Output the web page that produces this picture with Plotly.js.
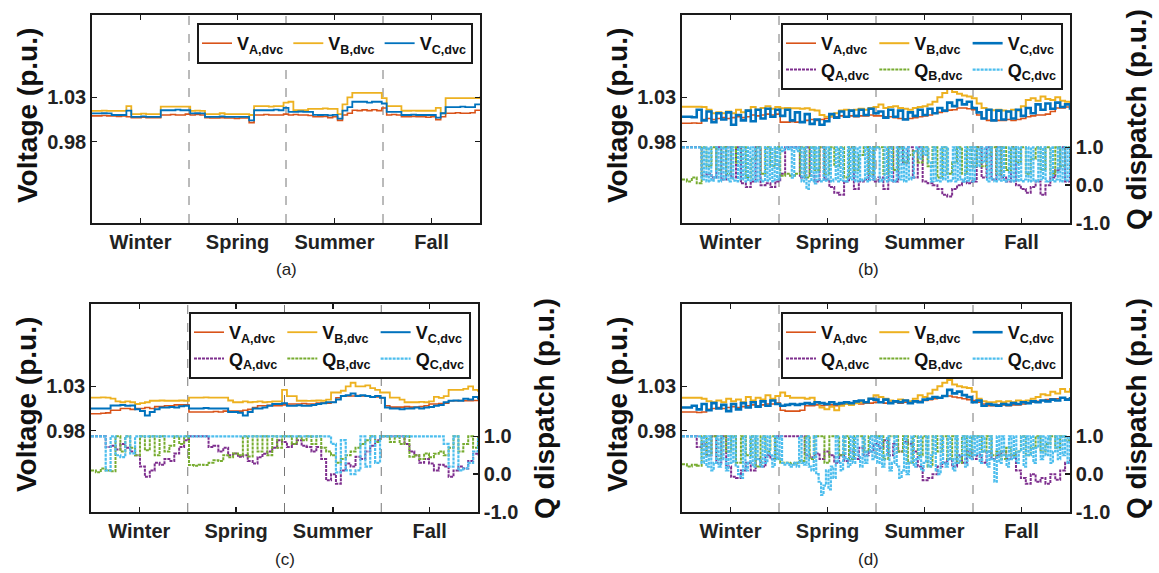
<!DOCTYPE html>
<html>
<head>
<meta charset="utf-8">
<script src="https://cdn.plot.ly/plotly-3.0.1.min.js"></script>
<style>html,body{margin:0;padding:0;background:#fff;}#chart{width:1159px;height:573px;}</style>
</head>
<body>
<div id="chart"></div>
<script>
// ---------------- DATA (voltage: 80 samples, 20 per season) ----------------
const seasons = ['Winter', 'Spring', 'Summer', 'Fall'];
const seasonTicks = [0.5, 1.5, 2.5, 3.5];
const voltTicks = [0.98, 1.03];
const voltTickText = ['0.98', '1.03'];
const qTicks = [-1, 0, 1];
const qTickText = ['-1.0', '0.0', '1.0'];

// Panel (a)
const VA_a = [1.009,1.009,1.0095,1.009,1.009,1.0085,1.009,1.008,1.007,1.007,1.0075,1.007,1.007,1.007,1.010,1.010,1.0105,1.010,1.010,1.011,
  1.010,1.0105,1.010,1.007,1.0067,1.0067,1.007,1.0067,1.0067,1.006,1.0067,1.0067,1.0014,1.010,1.010,1.0105,1.010,1.010,1.010,1.011,
  1.010,1.0105,1.010,1.010,1.0095,1.008,1.008,1.0085,1.007,1.008,1.004,1.010,1.012,1.0154,1.015,1.0158,1.015,1.016,1.015,1.018,
  1.010,1.0105,1.010,1.008,1.008,1.0085,1.008,1.008,1.0075,1.008,1.0048,1.008,1.012,1.012,1.0125,1.012,1.012,1.0125,1.0154,1.0154];
const VB_a = [1.0146,1.0146,1.015,1.0146,1.0146,1.0146,1.0146,1.020,1.011,1.011,1.0115,1.011,1.011,1.011,1.0194,1.0194,1.0194,1.0194,1.0194,1.0194,
  1.0146,1.015,1.0146,1.011,1.011,1.011,1.012,1.011,1.011,1.011,1.011,1.011,1.010,1.020,1.020,1.020,1.0195,1.020,1.020,1.024,
  1.025,1.0154,1.0154,1.0154,1.017,1.017,1.017,1.0175,1.017,1.017,1.011,1.022,1.030,1.035,1.035,1.035,1.035,1.035,1.035,1.029,
  1.020,1.020,1.020,1.0148,1.0148,1.015,1.0148,1.0148,1.0148,1.0148,1.018,1.012,1.029,1.029,1.029,1.029,1.029,1.029,1.029,1.031];
const VC_a = [1.0118,1.0118,1.012,1.0118,1.010,1.010,1.010,1.015,1.008,1.008,1.0085,1.008,1.008,1.008,1.0154,1.0154,1.0154,1.016,1.0154,1.0154,
  1.0118,1.012,1.0118,1.008,1.008,1.008,1.0085,1.008,1.008,1.008,1.008,1.008,1.004,1.0154,1.0154,1.0154,1.0154,1.016,1.0154,1.018,
  1.0136,1.0136,1.014,1.0136,1.0136,1.0101,1.010,1.0101,1.0095,1.0101,1.006,1.015,1.019,1.025,1.025,1.025,1.024,1.025,1.025,1.023,
  1.0136,1.0136,1.0136,1.010,1.010,1.0105,1.010,1.010,1.010,1.010,1.007,1.012,1.019,1.019,1.019,1.0195,1.019,1.019,1.022,1.022];

// Panel (b)
const VA_b = [1.0007,1.0007,1.001,1.0007,1.005,1.006,1.005,1.006,1.007,1.006,1.007,1.008,1.007,1.008,1.010,1.009,1.010,1.011,1.010,1.011,
  1.002,1.002,1.0025,1.002,1.002,1.004,1.005,1.004,1.005,1.006,1.008,1.008,1.009,1.008,1.009,1.008,1.009,1.009,1.010,1.009,
  1.009,1.008,1.008,1.007,1.006,1.0055,1.006,1.007,1.008,1.009,1.010,1.012,1.013,1.014,1.0155,1.016,1.018,1.018,1.017,1.016,
  1.010,1.006,1.004,1.004,1.004,1.004,1.005,1.004,1.005,1.006,1.008,1.009,1.010,1.010,1.011,1.014,1.018,1.018,1.019,1.018];
const VB_b = [1.0194,1.0194,1.0194,1.0194,1.019,1.016,1.012,1.013,1.012,1.014,1.012,1.016,1.013,1.015,1.019,1.016,1.018,1.020,1.017,1.019,
  1.0176,1.018,1.0176,1.0176,1.017,1.0176,1.016,1.015,1.010,1.008,1.009,1.012,1.015,1.016,1.015,1.016,1.017,1.016,1.018,1.019,
  1.022,1.018,1.019,1.020,1.018,1.017,1.016,1.018,1.019,1.020,1.022,1.025,1.030,1.035,1.0395,1.036,1.034,1.032,1.031,1.029,
  1.023,1.018,1.016,1.0154,1.016,1.015,1.014,1.016,1.015,1.020,1.027,1.029,1.026,1.031,1.028,1.027,1.030,1.026,1.025,1.022];
const VC_b = [1.008,1.008,1.0075,1.016,1.004,1.014,1.002,1.012,1.005,1.013,0.999,1.010,1.004,1.015,1.003,1.016,1.006,1.017,1.008,1.016,
  1.009,1.016,1.004,1.013,1.002,1.011,1.000,1.005,0.999,1.003,1.011,1.007,1.014,1.008,1.015,1.009,1.016,1.010,1.017,1.012,
  1.014,1.007,1.016,1.008,1.015,1.005,1.013,1.009,1.016,1.010,1.017,1.012,1.018,1.015,1.024,1.020,1.027,1.022,1.025,1.018,
  1.013,1.006,1.016,1.004,1.015,1.005,1.014,1.006,1.016,1.009,1.018,1.012,1.022,1.016,1.023,1.017,1.024,1.019,1.022,1.016];
const QA_b = [1,1,1,1,0.25,0.3,0.2,1,0.15,1,0.2,1,0.05,-0.05,0.1,1,0.0,0.05,-0.05,0.1,
  0.3,1,1,1,0.2,1,0.25,0.1,1,0.15,-0.05,-0.2,-0.25,0.1,1,-0.1,0.1,0.15,1,0.1,
  0.2,-0.1,1,0.1,1,0.6,1,0.2,1,0.1,0.05,0.0,-0.1,-0.25,-0.3,-0.1,0.0,0.1,0.05,0.1,
  1,0.2,1,0.15,1,0.2,0.1,1,0.0,-0.1,-0.2,-0.05,0.1,-0.25,0.0,0.2,0.4,1,0.1,1];
const QB_b = [0.15,0.1,0.2,0.05,1,0.5,1,0.4,1,0.3,1,0.6,1,0.2,0.7,1,0.3,1,0.5,1,
  0.25,0.3,0.25,0.3,1,0.2,1,0.4,1,0.3,1,0.5,1,0.2,1,0.4,0.8,1,0.3,1,
  1,0.3,1,0.4,1,0.6,0.8,0.9,0.6,1,0.5,1,0.2,1,0.3,0.6,1,0.3,1,0.5,
  1,0.5,0.8,1,0.3,1,0.4,1,0.6,1,0.3,0.7,1,0.4,1,0.3,1,0.5,1,0.4];
// Q_C in (b): 160 samples (40 per season)
const QC_b = [1,1,1,1,1,1,1,1,0.15,1,0.1,1,0.12,0.2,1,0.1,1,0.15,1,0.1,1,0.12,0.1,1,0.15,1,0.1,1,0.12,1,0.1,1,0.15,0.1,1,0.12,1,0.1,1,0.15,
  1,0.9,1,0.95,1,0.2,1,0.9,1,0.1,1,-0.1,0.1,1,0.05,1,0.15,0.1,1,0.12,1,0.1,0.15,1,0.1,1,0.12,0.1,1,0.15,1,0.1,1,0.12,0.15,1,0.1,1,0.15,1,
  1,0.1,0.15,1,0.1,1,0.12,0.1,1,0.15,1,0.1,1,0.15,0.2,0.9,1,0.7,1,0.8,1,0.6,0.1,1,0.12,0.1,1,0.15,1,0.1,0.12,1,0.1,1,0.15,0.1,1,0.12,1,0.1,
  1,0.5,1,0.6,1,0.1,1,0.15,0.1,1,0.12,1,0.1,0.15,1,0.1,1,0.12,1,0.1,0.15,1,0.1,1,0.12,0.1,1,0.15,1,0.1,0.12,1,0.1,0.15,1,0.1,1,0.12,1,0.15];

// Panel (c)
const VA_c = [0.999,0.999,0.9995,1.000,1.003,1.003,1.005,1.005,1.004,1.005,1.005,1.006,1.005,1.007,1.007,1.008,1.008,1.009,1.009,1.009,
  1.001,1.001,1.001,1.001,1.001,1.0015,1.001,1.002,1.002,1.002,1.002,1.003,1.004,1.006,1.008,1.008,1.0085,1.008,1.008,1.009,
  1.010,1.010,1.010,1.0105,1.010,1.010,1.011,1.011,1.011,1.012,1.017,1.019,1.019,1.019,1.0195,1.019,1.019,1.018,1.018,1.017,
  1.008,1.0065,1.0065,1.0065,1.007,1.0065,1.0065,1.007,1.008,1.010,1.010,1.0105,1.011,1.0137,1.0137,1.014,1.0137,1.0137,1.014,1.0137];
const VB_c = [1.0173,1.0173,1.0175,1.0173,1.016,1.013,1.012,1.013,1.012,1.010,1.011,1.012,1.0137,1.0137,1.014,1.0137,1.0137,1.0137,1.014,1.0137,
  1.0173,1.0173,1.0173,1.0175,1.0173,1.0173,1.0173,1.0173,1.014,1.012,1.012,1.013,1.012,1.0125,1.013,1.012,1.0125,1.013,1.013,1.026,
  1.019,1.019,1.0137,1.0137,1.0135,1.0137,1.014,1.0137,1.015,1.023,1.023,1.025,1.030,1.034,1.030,1.030,1.031,1.028,1.026,1.023,
  1.023,1.0173,1.0173,1.015,1.012,1.012,1.012,1.0125,1.012,1.013,1.018,1.017,1.019,1.026,1.026,1.026,1.027,1.030,1.026,1.024];
const VC_c = [1.005,1.005,1.005,1.005,1.0083,1.0083,1.009,1.008,1.0083,1.004,1.002,0.997,1.001,1.004,1.006,1.006,1.0065,1.006,1.0075,1.008,
  1.005,1.005,1.005,1.0055,1.005,1.005,1.005,1.005,1.001,1.001,1.000,0.997,1.001,1.005,1.005,1.006,1.008,1.010,1.010,1.011,
  1.008,1.008,1.0085,1.008,1.008,1.009,1.010,1.011,1.012,1.012,1.015,1.019,1.020,1.022,1.019,1.020,1.019,1.018,1.019,1.017,
  1.006,1.005,1.005,1.004,1.005,1.005,1.006,1.005,1.006,1.0065,1.008,1.009,1.012,1.0137,1.014,1.0137,1.016,1.015,1.018,1.015];
const QA_c = [1,1,1,0.72,0.75,0.65,0.8,0.7,0.6,0.5,0.2,-0.07,0.1,0.3,0.25,0.4,0.35,0.55,0.72,0.9,
  1,1,1,1,0.72,0.75,0.6,0.7,0.5,0.55,0.46,0.5,0.35,0.28,0.45,0.54,0.6,0.7,0.9,0.85,
  0.72,0.8,0.9,0.75,0.72,0.6,0.72,0.4,-0.16,0.0,-0.25,0.1,0.28,0.2,0.46,0.4,0.6,0.75,0.9,1,
  1,1,1,1,0.8,0.6,0.5,0.3,0.4,0.28,0.1,0.25,0.2,-0.07,0.1,0.2,0.15,0.35,0.54,0.5];
const QB_c = [0.1,0.05,0.15,0.1,0.08,1,0.6,1,0.7,0.5,1,0.63,1,0.5,1,0.6,0.75,1,0.8,1,
  0.24,0.22,0.25,0.24,0.3,0.37,0.35,0.5,0.45,0.55,0.5,1,0.47,1,0.6,1,0.5,1,0.7,1,
  1,0.8,1,0.9,1,0.8,1,0.7,0.6,0.5,0.3,0.4,0.5,0.6,0.7,0.8,0.9,1,0.85,1,
  1,0.85,1,0.8,1,0.46,0.5,0.4,0.55,0.45,0.54,0.6,0.5,0.7,1,0.6,0.8,1,0.7,1];
const QC_c = [1,1,1,0.1,1,0.5,0.45,1,0.55,1,1,1,1,1,1,1,1,1,1,1,
  1,1,1,1,1,1,1,1,1,1,1,1,1,1,1,1,1,1,1,1,
  1,1,1,1,1,1,1,1,1,0.8,0.05,0.9,0.1,0.0,0.1,1,0.2,1,0.3,1,
  1,1,1,1,1,1,1,1,1,1,1,1,0.8,0.2,1,0.1,0.15,0.3,0.6,1];

// Panel (d)
const VA_d = [1.001,1.001,1.001,1.0005,1.001,1.004,1.005,1.006,1.005,1.006,1.007,1.006,1.007,1.008,1.009,1.008,1.009,1.010,1.010,1.011,
  1.003,1.002,1.002,1.002,1.003,1.008,1.008,1.009,1.008,1.009,1.009,1.008,1.009,1.010,1.010,1.011,1.010,1.011,1.011,1.012,
  1.012,1.011,1.012,1.012,1.011,1.012,1.011,1.013,1.013,1.014,1.015,1.016,1.017,1.019,1.019,1.018,1.017,1.016,1.015,1.014,
  1.012,1.010,1.008,1.008,1.009,1.009,1.008,1.009,1.009,1.010,1.011,1.012,1.013,1.014,1.015,1.016,1.016,1.017,1.016,1.015];
const VB_d = [1.017,1.017,1.017,1.017,1.016,1.013,1.012,1.014,1.012,1.016,1.013,1.015,1.012,1.018,1.014,1.017,1.015,1.020,1.016,1.019,
  1.023,1.019,1.017,1.017,1.017,1.016,1.017,1.012,1.006,1.004,1.007,1.003,1.008,1.010,1.009,1.011,1.012,1.012,1.016,1.020,
  1.018,1.016,1.014,1.013,1.015,1.014,1.013,1.016,1.020,1.018,1.022,1.026,1.030,1.034,1.037,1.032,1.030,1.029,1.028,1.024,
  1.016,1.013,1.012,1.012,1.013,1.012,1.013,1.012,1.014,1.013,1.014,1.016,1.018,1.021,1.020,1.024,1.022,1.027,1.024,1.028];
const VC_d = [1.006,1.006,1.008,1.004,1.010,1.003,1.011,1.005,1.009,1.002,1.010,1.004,1.011,1.006,1.012,1.007,1.013,1.008,1.014,1.010,
  1.008,1.009,1.010,1.009,1.010,1.011,1.010,1.012,1.011,1.010,1.012,1.010,1.011,1.012,1.011,1.013,1.014,1.012,1.016,1.015,
  1.012,1.015,1.011,1.013,1.012,1.014,1.011,1.013,1.012,1.015,1.016,1.018,1.017,1.019,1.026,1.022,1.024,1.020,1.018,1.012,
  1.014,1.008,1.010,1.009,1.008,1.010,1.009,1.011,1.010,1.012,1.011,1.013,1.012,1.014,1.013,1.015,1.014,1.017,1.015,1.018];
const QA_d = [1,1,1,0.72,0.8,0.5,1,0.3,1,0.2,-0.07,-0.1,0.1,0.3,0.1,0.4,0.2,0.5,0.4,1,
  1,1,1,1,1,0.5,0.45,0.55,0.4,0.6,0.5,0.3,0.5,0.35,0.6,0.4,0.7,0.5,0.6,0.8,
  0.7,0.9,0.5,0.8,0.6,0.85,0.8,0.6,0.2,-0.16,-0.1,0.0,0.2,0.3,0.4,0.2,0.5,0.3,0.6,0.4,
  0.5,0.3,0.6,0.4,0.5,0.6,0.4,0.5,0.1,-0.1,-0.25,0.0,-0.2,-0.1,-0.25,0.0,-0.15,0.1,0.3,0.4];
const QB_d = [0.26,0.2,0.25,0.22,1,0.5,1,0.4,1,0.6,1,0.3,1,0.5,1,0.2,1,0.6,1,0.4,
  0.3,0.3,0.28,0.3,0.35,1,0.4,1,1,0.3,1,1,0.5,1,0.4,1,1,0.6,1,1,
  1,0.4,1,1,0.6,1,0.3,1,0.5,1,0.2,1,0.6,1,0.4,1,0.3,1,0.5,1,
  1,0.6,1,0.5,0.6,0.4,0.7,0.5,0.6,1,0.5,0.7,1,0.6,0.8,1,0.7,1,0.9,1];
// Q_C in (d): 160 samples (40 per season)
const QC_d = [1,1,1,1,1,1,1,1,0.3,1,0.2,1,0.1,0.3,1,0.2,1,0.4,0.1,1,0.3,1,0.2,0.0,-0.1,1,0.1,0.3,1,0.2,1,0.4,0.2,1,0.3,1,0.5,0.2,1,0.4,
  1,0.3,0.25,0.3,0.2,0.25,0.3,0.2,1,0.3,0.25,1,0.2,0.1,1,0.0,-0.2,-0.55,-0.3,0.1,-0.4,0.2,-0.1,1,0.3,0.1,1,0.4,0.2,1,0.3,1,0.5,0.2,1,0.3,0.6,1,0.4,1,
  0.3,1,0.2,0.5,1,0.1,0.3,1,0.2,-0.1,0.1,1,0.0,0.3,1,0.2,0.4,1,0.1,0.3,1,0.2,0.5,1,0.1,0.0,1,0.3,0.2,1,0.4,0.1,1,0.3,0.5,1,0.2,1,0.4,1,
  0.5,1,0.3,1,0.6,0.2,1,0.4,-0.2,1,0.3,1,0.5,0.2,1,0.4,1,0.3,0.6,1,0.2,1,0.5,1,0.3,0.7,1,0.4,1,0.5,1,0.3,0.6,1,0.4,1,0.5,1,0.3,1];

// ---------------- STYLE ----------------
const W = 1159, H = 573;
const FONT = 'Liberation Sans, Arial, sans-serif';
const colV = ['#D95319', '#EDB120', '#0072BD'];
const colQ = ['#7E2F8E', '#77AC30', '#4DBEEE'];
const phases = ['A', 'B', 'C'];
const timeIndex = n => Array.from({length: n}, (_, i) => i * 4 / (n - 1)); // position across the year (0..4 seasons)

// panel boxes in pixels [left, right, top, bottom]
const boxes = {
  a: [92, 480, 15, 223],
  b: [682, 1070, 15, 223],
  c: [91, 478, 304, 512],
  d: [682, 1070, 304, 512]
};
const panelDefs = [
  {key: 'a', n: '', V: [VA_a, VB_a, VC_a], Q: null, legend: 'legend', qAxis: null, vW: [1.6, 1.8, 1.8]},
  {key: 'b', n: '2', V: [VA_b, VB_b, VC_b], Q: [QA_b, QB_b, QC_b], legend: 'legend2', qAxis: '5', vW: [1.6, 2, 2.6]},
  {key: 'c', n: '3', V: [VA_c, VB_c, VC_c], Q: [QA_c, QB_c, QC_c], legend: 'legend3', qAxis: '6', vW: [1.6, 1.8, 2]},
  {key: 'd', n: '4', V: [VA_d, VB_d, VC_d], Q: [QA_d, QB_d, QC_d], legend: 'legend4', qAxis: '7', vW: [1.6, 2, 2.6]}
];
const labelPos = {a: [286, 270], b: [868, 270], c: [285, 559], d: [868, 559]};

const traces = [];
const layout = {
  width: W, height: H,
  margin: {l: 0, r: 0, t: 0, b: 0},
  paper_bgcolor: '#fff', plot_bgcolor: '#fff',
  font: {family: FONT, color: '#111'},
  showlegend: true,
  shapes: [], annotations: []
};

const axLine = {showline: true, linecolor: '#1a1a1a', linewidth: 1.8, ticks: 'inside', ticklen: 5, tickwidth: 1.5, tickcolor: '#1a1a1a', showgrid: false, zeroline: false};

panelDefs.forEach(p => {
  const [l, r, t, b] = boxes[p.key];
  const xd = [l / W, r / W], yd = [1 - b / H, 1 - t / H];
  const xa = 'xaxis' + p.n, ya = 'yaxis' + p.n;
  const xr = 'x' + p.n, yr = 'y' + p.n;
  layout[xa] = Object.assign({}, axLine, {
    domain: xd, anchor: yr, range: [0, 4], mirror: 'ticks',
    tickvals: seasonTicks, ticktext: seasons.map(s => '<b>' + s + '</b>'),
    tickfont: {family: FONT, size: 20, color: '#222'}
  });
  layout[ya] = Object.assign({}, axLine, {
    domain: yd, anchor: xr, range: [0.888, 1.123], mirror: p.Q ? false : 'ticks',
    tickvals: voltTicks, ticktext: voltTickText.map(s => '<b>' + s + '</b>'),
    tickfont: {family: FONT, size: 20, color: '#222'}
  });
  [1, 2, 3].forEach(s => layout.shapes.push({
    type: 'line', xref: xr, yref: yr + ' domain', x0: s, x1: s, y0: 0, y1: 1,
    line: {color: '#777', width: 1, dash: 'dash'}, layer: 'below'
  }));
  p.V.forEach((vals, k) => traces.push({
    type: 'scatter', mode: 'lines', x: timeIndex(vals.length), y: vals, xaxis: xr, yaxis: yr,
    line: {color: colV[k], width: p.vW[k], shape: 'hv'},
    name: '<b>V<sub>' + phases[k] + ',dvc</sub></b>', legend: p.legend, legendgroup: p.key + phases[k]
  }));
  if (p.Q) {
    const qa = 'yaxis' + p.qAxis, qr = 'y' + p.qAxis;
    layout[qa] = Object.assign({}, axLine, {
      overlaying: yr, anchor: xr, side: 'right', range: [-1, 4.5],
      tickvals: qTicks, ticktext: qTickText.map(s => '<b>' + s + '</b>'),
      tickfont: {family: FONT, size: 20, color: '#222'}
    });
    p.Q.forEach((vals, k) => traces.push({
      type: 'scatter', mode: 'lines', x: timeIndex(vals.length), y: vals, xaxis: xr, yaxis: qr,
      line: {color: colQ[k], width: k === 2 ? 2.2 : 2, dash: '3px,1px', shape: 'hv'},
      name: '<b>Q<sub>' + phases[k] + ',dvc</sub></b>', legend: p.legend, legendgroup: p.key + phases[k]
    }));
    layout.annotations.push({
      xref: 'paper', yref: 'paper', x: (r + 66) / W, y: 1 - ((t + b) / 2 + 1) / H,
      text: '<b>Q dispatch (p.u.)</b>', textangle: -90, showarrow: false,
      xanchor: 'center', yanchor: 'middle', font: {family: FONT, size: 28, color: '#111'}
    });
  }
  layout.annotations.push({
    xref: 'paper', yref: 'paper', x: (l - 65) / W, y: 1 - ((t + b) / 2 - 3) / H,
    text: '<b>Voltage (p.u.)</b>', textangle: -90, showarrow: false,
    xanchor: 'center', yanchor: 'middle', font: {family: FONT, size: 28, color: '#111'}
  });
  layout.annotations.push({
    xref: 'paper', yref: 'paper', x: labelPos[p.key][0] / W, y: 1 - labelPos[p.key][1] / H,
    text: '(' + p.key + ')', showarrow: false, xanchor: 'center', yanchor: 'middle',
    font: {family: FONT, size: 17, color: '#222'}
  });
  layout[p.legend] = {
    orientation: 'h', traceorder: 'grouped', tracegroupgap: 0,
    x: (r - 7) / W, xanchor: 'right', y: 1 - (t + 8) / H, yanchor: 'top',
    bgcolor: '#fff', bordercolor: '#1a1a1a', borderwidth: 2,
    font: {family: FONT, size: 18, color: '#111'}, itemwidth: 30
  };
});

Plotly.newPlot('chart', traces, layout, {staticPlot: true});
</script>
</body>
</html>
